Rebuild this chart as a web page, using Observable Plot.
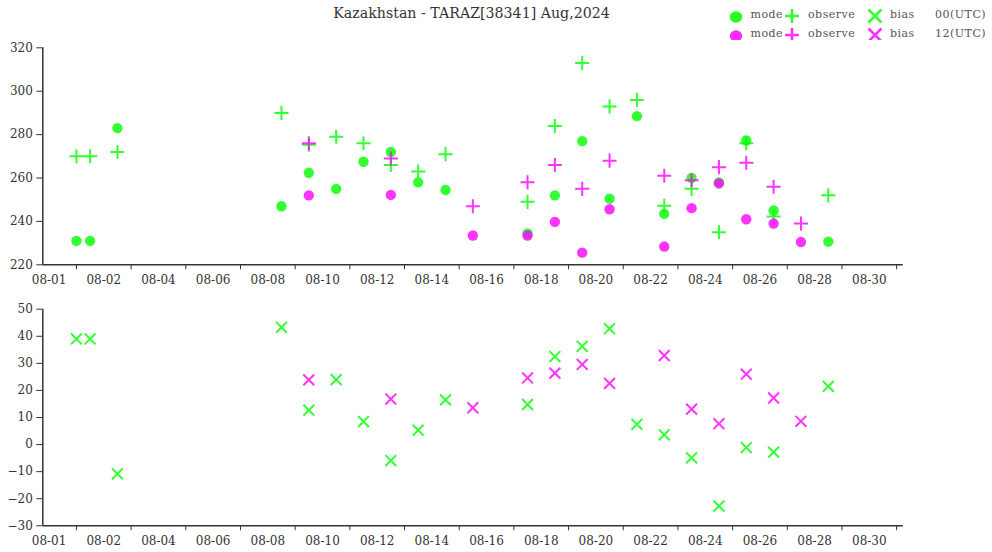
<!DOCTYPE html>
<html>
<head>
<meta charset="utf-8">
<script src="https://cdn.jsdelivr.net/npm/d3@7"></script>
<script src="https://cdn.jsdelivr.net/npm/@observablehq/plot@0.6"></script>
<style>
  body { margin: 0; background: #fff; }
  #root { position: relative; width: 992px; height: 552px; overflow: hidden; font-family: "DejaVu Serif", serif; }
  .title { position: absolute; left: 0; width: 943px; top: 5px; text-align: center; font-size: 14.2px; color: #333; }
  .lg { position: absolute; font-size: 11px; letter-spacing: 0.5px; color: #555; line-height: 14px; white-space: pre; }
  .lgsym { position: absolute; }
  #top { position: absolute; left: 0; top: 40px; }
  #bottom { position: absolute; left: 0; top: 290px; }
</style>
</head>
<body>
<div id="root">
  <div class="title">Kazakhstan - TARAZ[38341] Aug,2024</div>
  <div id="legend"></div>
  <div id="top"></div>
  <div id="bottom"></div>
</div>
<script>
// ---- axis ticks (x in day units) ----
const tickDays = [1, 3, 5, 7, 9, 11, 13, 15, 17, 19, 21, 23, 25, 27, 29, 31];
const labelDays = [0, 2, 4, 6, 8, 10, 12, 14, 16, 18, 20, 22, 24, 26, 28, 30];
const tickLabels = ["08-01", "08-02", "08-04", "08-06", "08-08", "08-10", "08-12", "08-14",
                    "08-16", "08-18", "08-20", "08-22", "08-24", "08-26", "08-28", "08-30"];
const upperTicks = [220, 240, 260, 280, 300, 320];
const lowerTicks = [-30, -20, -10, 0, 10, 20, 30, 40, 50];

// ---- 00 UTC series ----
const days00 = [1, 1.5, 2.5, 8.5, 9.5, 10.5, 11.5, 12.5, 13.5, 14.5, 17.5, 18.5, 19.5, 20.5, 21.5, 22.5, 23.5, 24.5, 25.5, 26.5, 28.5];
const model00 = [231, 231, 283, 247, 262.4, 255, 267.5, 272, 258, 254.5, 234.5, 252, 277, 250.5, 288.5, 243.5, 260, 258, 277.3, 245, 230.7];
const observe00 = [270, 270, 272, 290, 275.3, 279, 276, 266, 263, 271, 249, 284, 313, 293, 296, 247.2, 255, 235, 276, 242.3, 252];
const bias00 = [39, 39, -10.8, 43.3, 12.7, 24, 8.5, -5.9, 5.3, 16.5, 14.8, 32.5, 36.3, 42.8, 7.5, 3.6, -4.9, -22.7, -1.1, -2.8, 21.5];

// ---- 12 UTC series ----
const days12 = [9.5, 12.5, 15.5, 17.5, 18.5, 19.5, 20.5, 22.5, 23.5, 24.5, 25.5, 26.5, 27.5];
const model12 = [252, 252.2, 233.5, 233.5, 239.8, 225.6, 245.6, 228.4, 246.1, 257.5, 241, 239, 230.5];
const observe12 = [276, 269, 247, 258, 266, 255, 268, 261, 259, 265, 267, 256, 239];
const bias12 = [23.9, 16.8, 13.6, 24.6, 26.4, 29.6, 22.6, 32.9, 13.1, 7.7, 26, 17.2, 8.6];

const colors = {"00": "#00ff00", "12": "#ff00ff"};

const rows00 = days00.map((d, i) => ({day: d, model: model00[i], observe: observe00[i], bias: bias00[i]}));
const rows12 = days12.map((d, i) => ({day: d, model: model12[i], observe: observe12[i], bias: bias12[i]}));

const xDomain = [-0.23, 31.24];
const labelMap = new Map(labelDays.map((d, i) => [d, tickLabels[i]]));
const axisColor = "#333";

function commonAxes(yTicks, yMin) {
  return [
    Plot.ruleY([yMin], {stroke: axisColor, strokeWidth: 1.5}),
    Plot.ruleX([xDomain[0]], {stroke: axisColor, strokeWidth: 1.5}),
    Plot.axisY({ticks: yTicks, tickSize: 6, tickPadding: 4, tickFormat: d => d < 0 ? "\u2212" + Math.abs(d) : String(d), stroke: axisColor, fill: "#333", label: null}),
    Plot.axisX({ticks: tickDays, tickSize: 5, tickFormat: () => "", stroke: axisColor, label: null}),
    Plot.axisX({ticks: labelDays, tickSize: 0, tickPadding: 11, tickFormat: d => labelMap.get(d), fill: "#333", label: null})
  ];
}

const style = {fontFamily: "DejaVu Serif, serif", fontSize: "12px", color: "#333", background: "white", overflow: "visible"};

const topPlot = Plot.plot({
  width: 992, height: 250,
  marginTop: 7.3, marginBottom: 25.7, marginLeft: 42.3, marginRight: 89.3,
  x: {domain: xDomain, label: null},
  y: {domain: [220, 320], label: null},
  style,
  marks: [
    ...commonAxes(upperTicks, 220),
    Plot.dot(rows00, {x: "day", y: "model", r: 5.2, symbol: "circle", fill: colors["00"], fillOpacity: 0.8}),
    Plot.dot(rows00, {x: "day", y: "observe", r: 4.6, symbol: "plus", stroke: colors["00"], strokeOpacity: 0.8, strokeWidth: 2}),
    Plot.dot(rows12, {x: "day", y: "model", r: 5.2, symbol: "circle", fill: colors["12"], fillOpacity: 0.8}),
    Plot.dot(rows12, {x: "day", y: "observe", r: 4.6, symbol: "plus", stroke: colors["12"], strokeOpacity: 0.8, strokeWidth: 2})
  ]
});
document.getElementById("top").appendChild(topPlot);

const bottomPlot = Plot.plot({
  width: 992, height: 262,
  marginTop: 18.7, marginBottom: 26.7, marginLeft: 42.3, marginRight: 89.3,
  x: {domain: xDomain, label: null},
  y: {domain: [-30, 50], label: null},
  style,
  marks: [
    ...commonAxes(lowerTicks, -30),
    Plot.dot(rows00, {x: "day", y: "bias", r: 5, symbol: "times", stroke: colors["00"], strokeOpacity: 0.8, strokeWidth: 2}),
    Plot.dot(rows12, {x: "day", y: "bias", r: 5, symbol: "times", stroke: colors["12"], strokeOpacity: 0.8, strokeWidth: 2})
  ]
});
document.getElementById("bottom").appendChild(bottomPlot);

// ---- legend ----
const legendRows = [{hour: "00", cy: 15.5}, {hour: "12", cy: 34.5}];
const lg = document.getElementById("legend");
function sym(kind, color) {
  const a = 'stroke="' + color + '" stroke-opacity="0.8" stroke-width="2.6" fill="none"';
  if (kind === "dot") return '<svg width="14" height="14"><ellipse cx="7" cy="7" rx="6.2" ry="5.7" fill="' + color + '" fill-opacity="0.85"/></svg>';
  if (kind === "plus") return '<svg width="16" height="16"><path d="M1,8H15M8,1V15" ' + a + '/></svg>';
  return '<svg width="16" height="16"><path d="M1.5,1.5L14.5,14.5M14.5,1.5L1.5,14.5" ' + a + '/></svg>';
}
legendRows.forEach(r => {
  const c = colors[r.hour];
  const items = [
    {html: sym("dot", c), x: 736 - 7, y: r.cy - 7, cls: "lgsym"},
    {html: "mode", x: 750.5, y: r.cy - 7.5, cls: "lg"},
    {html: sym("plus", c), x: 792.3 - 8, y: r.cy - 8, cls: "lgsym"},
    {html: "observe", x: 808, y: r.cy - 7.5, cls: "lg"},
    {html: sym("x", c), x: 875 - 8, y: r.cy - 8, cls: "lgsym"},
    {html: "bias", x: 890, y: r.cy - 7.5, cls: "lg"},
    {html: r.hour + "(UTC)", x: 935, y: r.cy - 7.5, cls: "lg"}
  ];
  items.forEach(it => {
    const el = document.createElement("div");
    el.className = it.cls;
    el.style.left = it.x + "px";
    el.style.top = it.y + "px";
    el.innerHTML = it.html;
    lg.appendChild(el);
  });
});
</script>
</body>
</html>
